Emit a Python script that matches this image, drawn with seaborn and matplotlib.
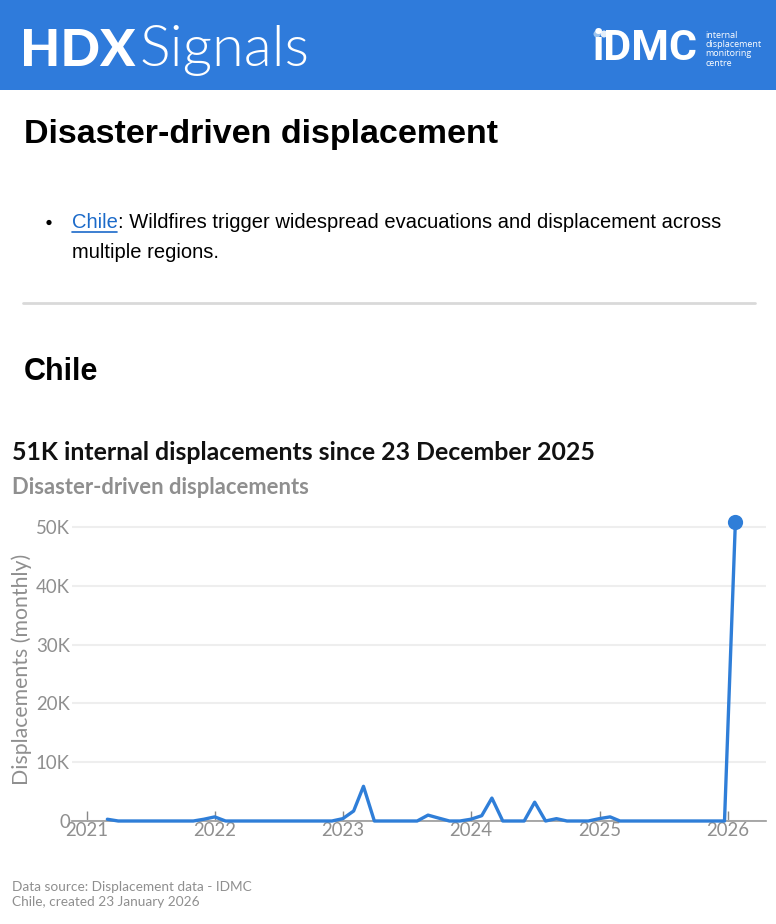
import matplotlib
matplotlib.use("Agg")
import matplotlib.pyplot as plt
from matplotlib.patches import Rectangle, Circle
import pandas as pd
import seaborn as sns

# monthly displacements, Feb 2021 to Nov 2025, then the two latest dated points
month_ends = pd.date_range("2021-02-28", "2025-11-30", freq="ME")
latest_dates = pd.to_datetime(["2025-12-23", "2026-01-23"])
values = [
    300, 0, 0, 0, 0, 0, 0, 0, 0, 300, 700,                                   # 2021
    0, 0, 0, 0, 0, 0, 0, 0, 0, 0, 0, 400,                                    # 2022
    1700, 5900, 0, 0, 0, 0, 0, 1000, 500, 0, 0, 300,                         # 2023
    900, 3900, 0, 0, 0, 3200, 0, 400, 0, 0, 0, 400,                          # 2024
    700, 0, 0, 0, 0, 0, 0, 0, 0, 0, 0,                                       # 2025
    0, 50900,
]
dates = list(month_ends) + list(latest_dates)
y_ticks = [0, 10000, 20000, 30000, 40000, 50000]
y_labels = ["0", "10K", "20K", "30K", "40K", "50K"]
years = [2021, 2022, 2023, 2024, 2025, 2026]

BLUE = "#2f7bdb"
LINE = "#2f7ed8"
GREY = "#8f8f8f"
CHART_FONT = "Lato"
W, H = 776, 924

sns.set_style("white")
plt.rcParams["font.family"] = ["Liberation Sans", "DejaVu Sans"]

fig = plt.figure(figsize=(W / 100, H / 100), dpi=100)

# page furniture, in pixel coordinates
page = fig.add_axes([0, 0, 1, 1])
page.set_xlim(0, W)
page.set_ylim(H, 0)
page.axis("off")
page.add_patch(Rectangle((0, 0), W, 90, color=BLUE, lw=0))
page.text(20, 51, "HDX", color="white", fontsize=37.5, fontweight="black", family="Lato", va="center")
page.text(140, 51, "Signals", color="white", fontsize=41.5, fontweight=300, family="Lato", va="center")
page.text(593, 49, "iDMC", color="white", fontsize=31, fontweight="bold", family="Roboto", va="center")
for i, line in enumerate(["internal", "displacement", "monitoring", "centre"]):
    page.text(705, 35 + i * 9.4, line, color="white", fontsize=6.5, family="Open Sans", va="center")
page.add_patch(Circle((597, 34), 3.5, color="#9cc3ee", lw=0))
page.add_patch(Circle((604, 34), 3.5, color="#e4eefa", lw=0))

page.text(24, 135, "Disaster-driven displacement", fontsize=24.5, fontweight="bold", va="center", color="black")
page.add_patch(Circle((49, 222.5), 2.6, color="black", lw=0))
page.text(72, 223, "Chile", fontsize=14.5, color="#1b6ac9", va="center")
page.plot([72, 117], [232, 232], color="#1b6ac9", lw=1.2)
page.text(117.5, 223, ": Wildfires trigger widespread evacuations and displacement across", fontsize=14.48, va="center", color="black")
page.text(72, 253, "multiple regions.", fontsize=14.5, va="center", color="black")
page.plot([23, 755], [303, 303], color="#d9d9d9", lw=2)
page.text(24, 372, "Chile", fontsize=22, fontweight="bold", va="center", color="black")

page.text(12, 453, "51K internal displacements since 23 December 2025", fontsize=17.9, fontweight="bold", family=CHART_FONT, va="center", color="#111111")
page.text(12, 487, "Disaster-driven displacements", fontsize=15.8, fontweight="bold", family=CHART_FONT, va="center", color=GREY)
page.text(22, 669, "Displacements (monthly)", fontsize=15.3, family=CHART_FONT, rotation=90, va="center", ha="center", color=GREY)
page.text(12, 887, "Data source: Displacement data - IDMC", fontsize=9.85, family=CHART_FONT, va="center", color=GREY)
page.text(12, 902, "Chile, created 23 January 2026", fontsize=9.85, family=CHART_FONT, va="center", color=GREY)

# chart area: left 72, right 766, zero line at y=821, top at y=515
ax = fig.add_axes([72 / W, 1 - 821 / H, 694 / W, 306 / H])
ax.patch.set_alpha(0)
df = pd.DataFrame({"date": dates, "displacements": values})
sns.lineplot(data=df, x="date", y="displacements", ax=ax, color=LINE, lw=2.4, clip_on=False, zorder=3)
sns.scatterplot(data=df.tail(1), x="date", y="displacements", ax=ax, color=LINE, s=120, linewidth=0, clip_on=False, zorder=4)

px_per_year = 128.15
start = pd.Timestamp("2021-01-01")
ax.set_xlim(start - pd.Timedelta(days=15 / px_per_year * 365.25),
            start + pd.Timedelta(days=(766 - 87) / px_per_year * 365.25))
ax.set_ylim(0, 306 / 5.88 * 1000)
ax.set_xlabel("")
ax.set_ylabel("")
ax.set_yticks(y_ticks, y_labels)
ax.set_xticks([pd.Timestamp(f"{y}-01-01") for y in years], [str(y) for y in years])
ax.grid(axis="y", color="#eeeeee", lw=1.5)
ax.set_axisbelow(True)
ax.tick_params(axis="y", length=0, pad=1.5, labelsize=13.4, labelcolor=GREY)
ax.tick_params(axis="x", bottom=True, direction="in", length=7, width=1, color="#888888", pad=1, labelsize=13.4, labelcolor=GREY)
for label in ax.get_xticklabels() + ax.get_yticklabels():
    label.set_family(CHART_FONT)
sns.despine(ax=ax, left=True)
ax.spines["bottom"].set_color("#999999")
ax.spines["bottom"].set_linewidth(1.2)

fig.savefig("out.png", dpi=100)
